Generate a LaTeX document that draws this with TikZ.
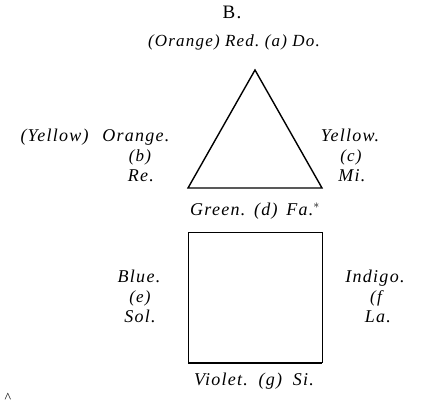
\documentclass[tikz,border=0pt]{standalone}
\usepackage{fontspec}
\setmainfont{Liberation Serif}[LetterSpace=7]
\begin{document}
\begin{tikzpicture}[x=1pt,y=-1pt,
  lab/.style={font=\fontsize{18}{19}\selectfont\itshape, inner sep=0pt, text height=9pt, text depth=3pt},
  sm/.style={lab, font=\fontsize{17}{18}\selectfont\itshape},
  tri/.style={line width=1.4pt},
  sq/.style={line width=0.8pt}]
\useasboundingbox (0,0) rectangle (423,407);
\node[lab,font=\fontsize{19}{20}\selectfont] (title) at (232,15) {B.};
\node[lab,font=\fontsize{17}{18}\selectfont\itshape] (top) at (234,43) {(Orange)\ Red.\ (a)\ Do.};
\coordinate (A) at (255,70);
\coordinate (Bl) at (188,188);
\coordinate (Br) at (322,188);
\draw[tri] (A) -- (Bl) -- (Br) -- cycle;
\node[lab] (yo) at (95,138) {(Yellow)\hspace{8pt}\ Orange.};
\node[sm] (b) at (140,158) {(b)};
\node[lab] (re) at (141,178) {Re.};
\node[lab] (yel) at (350,138) {Yellow.};
\node[sm] (c) at (351,158) {(c)};
\node[lab] (mi) at (352,178) {Mi.};
\node[lab] (green) at (255,212) {Green.\hspace{3pt}\ (d)\hspace{3pt}\ Fa.$^{*}$};
\coordinate (S1) at (188,232);
\coordinate (S2) at (322,232);
\coordinate (S3) at (322,363);
\coordinate (S4) at (188,363);
\draw[sq] (S1) -- (S2) -- (S3);
\draw[sq, line width=0.5pt] (S1) -- (S4);
\draw[line width=1.2pt] (S4) -- (S3);
\node[lab] (blue) at (139,279) {Blue.};
\node[sm] (e) at (140,299) {(e)};
\node[lab] (sol) at (140,319) {Sol.};
\node[lab] (ind) at (375,279) {Indigo.};
\node[sm] (f) at (376,299) {(f};
\node[lab] (la) at (378,319) {La.};
\node[lab] (vio) at (254,382) {Violet.\hspace{5pt}\ (g)\hspace{5pt}\ Si.};
\node[inner sep=0pt,font=\fontsize{14}{14}\selectfont] (car) at (8,398) {\^{}};
\end{tikzpicture}
\end{document}
